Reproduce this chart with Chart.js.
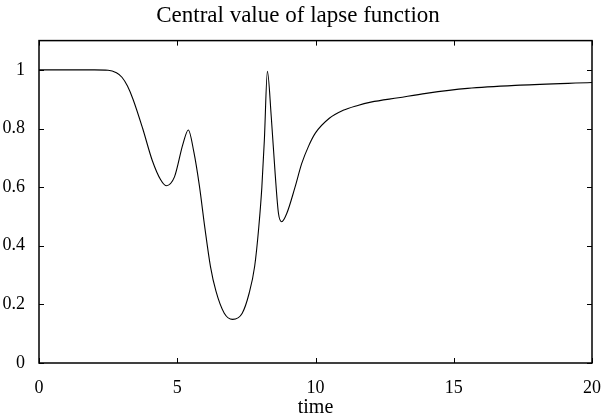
<!DOCTYPE html>
<html>
<head>
<meta charset="utf-8">
<script src="https://cdn.jsdelivr.net/npm/chart.js@4"></script>
<style>
  html, body { margin: 0; padding: 0; background: #fff; }
  #wrap { width: 607px; height: 420px; }
</style>
</head>
<body>
<div id="wrap"><canvas id="lapse"></canvas></div>
<script>
// Data
const times = [0, 1, 2, 2.5, 2.8, 3.0, 3.2, 3.4, 3.75, 4.1, 4.4, 4.6, 4.9, 5.2, 5.4, 5.6, 5.8, 6.0, 6.2, 6.4, 6.7, 7.0, 7.35, 7.6, 7.8, 7.95, 8.06, 8.15, 8.26, 8.4, 8.54, 8.66, 8.78, 8.96, 9.26, 9.5, 9.75, 10.0, 10.5, 11.0, 11.5, 12.0, 13.0, 14.0, 15.5, 17.4, 20];
const lapse = [1, 1, 1, 0.999, 0.99, 0.975, 0.945, 0.9, 0.8, 0.69, 0.625, 0.605, 0.635, 0.745, 0.795, 0.72, 0.605, 0.46, 0.33, 0.245, 0.17, 0.149, 0.17, 0.238, 0.33, 0.465, 0.6, 0.76, 0.995, 0.84, 0.647, 0.511, 0.482, 0.51, 0.6, 0.68, 0.74, 0.785, 0.835, 0.862, 0.878, 0.89, 0.905, 0.92, 0.937, 0.948, 0.957];
const xTicks = [0, 5, 10, 15, 20];
const yTicks = [0, 0.2, 0.4, 0.6, 0.8, 1];

const serif = "'Liberation Serif', 'DejaVu Serif', serif";

// box round the plot and ticks pointing inwards, on all four sides
const boxPlugin = {
    id: 'box',
    afterDraw(chart) {
        const ctx = chart.ctx;
        const a = chart.chartArea;
        const xs = chart.scales.x, ys = chart.scales.y;
        const len = 5;
        ctx.save();
        ctx.strokeStyle = '#000';
        ctx.lineWidth = 1;
        xTicks.forEach(t => {
            const px = Math.round(xs.getPixelForValue(t)) + 0.5;
            ctx.beginPath();
            ctx.moveTo(px, a.bottom); ctx.lineTo(px, a.bottom - len);
            ctx.moveTo(px, a.top); ctx.lineTo(px, a.top + len);
            ctx.stroke();
        });
        yTicks.forEach(t => {
            const py = Math.round(ys.getPixelForValue(t)) + 0.5;
            ctx.beginPath();
            ctx.moveTo(a.left, py); ctx.lineTo(a.left + len, py);
            ctx.moveTo(a.right, py); ctx.lineTo(a.right - len, py);
            ctx.stroke();
        });
        ctx.lineWidth = 1.5;
        ctx.strokeRect(a.left, a.top, a.right - a.left, a.bottom - a.top);
        ctx.restore();
    }
};

window.onload = function() {
    const points = times.map((t, i) => ({ x: t, y: lapse[i] }));
    new Chart(document.getElementById('lapse'), {
        type: 'line',
        data: {
            datasets: [{
                data: points,
                borderColor: '#000',
                borderWidth: 1.1,
                pointRadius: 0,
                fill: false,
                cubicInterpolationMode: 'monotone'
            }]
        },
        options: {
            responsive: true,
            maintainAspectRatio: false,
            animation: false,
            layout: { padding: { left: 0, right: 11, top: 0, bottom: 0 } },
            plugins: {
                legend: { display: false },
                tooltip: { enabled: false },
                title: {
                    display: true,
                    text: 'Central value of lapse function',
                    color: '#000',
                    font: { family: serif, size: 23, weight: 'normal' },
                    padding: { top: 2, bottom: 11 }
                }
            },
            scales: {
                x: {
                    type: 'linear',
                    min: 0,
                    max: 20,
                    afterBuildTicks: s => { s.ticks = xTicks.map(v => ({ value: v })); },
                    afterFit: s => { s.height = 57; },
                    grid: { display: false },
                    border: { display: false },
                    ticks: {
                        color: '#000',
                        padding: 6,
                        maxRotation: 0,
                        font: { family: serif, size: 18 }
                    },
                    title: {
                        display: true,
                        text: 'time',
                        color: '#000',
                        padding: { top: 0, bottom: 0 },
                        font: { family: serif, size: 20 }
                    }
                },
                y: {
                    min: 0,
                    max: 1.1,
                    afterBuildTicks: s => { s.ticks = yTicks.map(v => ({ value: v })); },
                    afterFit: s => { s.width = 39; },
                    grid: { display: false },
                    border: { display: false },
                    ticks: {
                        color: '#000',
                        padding: 6,
                        font: { family: serif, size: 18 },
                        callback: v => String(+v.toFixed(1))
                    }
                }
            }
        },
        plugins: [boxPlugin]
    });
};
</script>
</body>
</html>
